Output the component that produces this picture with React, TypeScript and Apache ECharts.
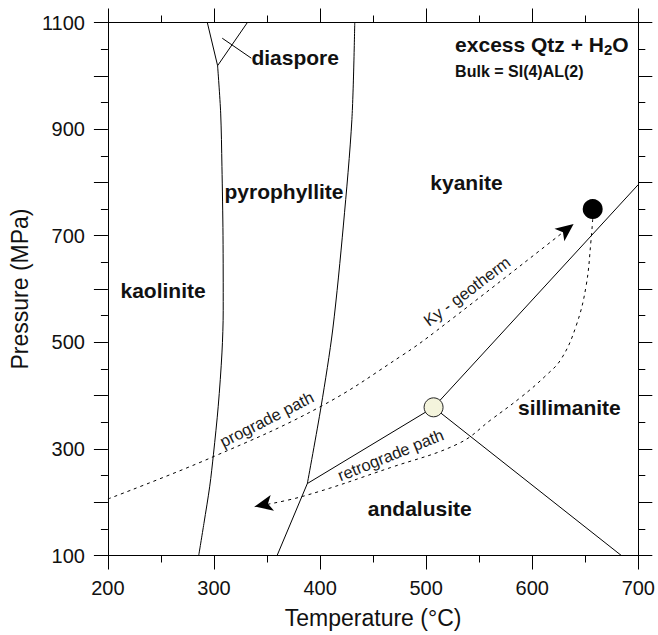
import React, { useEffect, useRef } from "react";
import * as echarts from "echarts";

// ---- data (Temperature °C, Pressure MPa) ----
const kaolPyrLine = [[285.6, 100], [290.5, 160], [296, 230], [299.5, 290], [304, 380], [307.5, 480], [308.7, 560], [308.5, 700], [307.5, 830], [306.3, 930], [303.4, 1019]];
const kaolDiaLine = [[303.4, 1019], [293.7, 1100]];
const pyrDiaLine = [[303.4, 1019], [331.5, 1100]];
const diasporeLeader = [[307.8, 1070.5], [335.2, 1033]];
const pyrKyLine = [[388, 235], [401, 380], [412, 525], [422, 720], [430, 918], [432.7, 1100]];
const pyrAndLine = [[359.5, 100], [388, 235]];
const kyAndLine = [[388, 235], [507, 378]];
const kySilLine = [[507, 378], [700, 796]];
const andSilLine = [[507, 378], [684, 100]];
const progradePath = [[200, 206], [299, 285], [401, 380], [477, 475], [510, 522], [639, 722]];
const retrogradePath = [[657, 731], [655.5, 693], [650.8, 606], [641.4, 531], [627.4, 469], [612, 436], [590, 398], [562, 356], [530.5, 310], [466.5, 265], [383.7, 211], [338.4, 191.7]];
const triplePoint = [507, 378];
const peakPoint = [657, 750];

const fieldNames = ["kaolinite", "pyrophyllite", "kyanite", "diaspore", "sillimanite", "andalusite"];
const fieldAnchors = [[252, 598], [366, 783], [538, 800], [376.5, 1034], [635, 378], [494, 189]];
const pathNames = ["prograde path", "Ky - geotherm", "retrograde path"];
const pathAnchors = [[349.6, 356], [538.3, 596], [466.5, 289]];
const headerAnchors = [[527.3, 1058], [527.3, 1007.5]];
const bulkText = "Bulk = SI(4)AL(2)";

const xTicks = { min: 200, max: 700, interval: 100 };
const yTicks = { min: 100, max: 1100, interval: 100 };

const FONT = "'Liberation Sans', Arial, Helvetica, sans-serif";
const INK = "#111";

function axisBase(t: { min: number; max: number; interval: number }) {
  return {
    type: "value" as const,
    min: t.min,
    max: t.max,
    interval: t.interval,
    axisLine: { show: true, onZero: false, lineStyle: { color: "#000", width: 1 } },
    axisTick: { show: true, inside: false, length: 14, lineStyle: { color: "#000", width: 1 } },
    minorTick: { show: true, splitNumber: 2, length: 7, lineStyle: { color: "#000", width: 1 } },
    splitLine: { show: false },
    minorSplitLine: { show: false },
  };
}

function lineSeries(data: number[][], dashed = false, smooth: number | boolean = false) {
  return {
    type: "line",
    data,
    showSymbol: false,
    symbol: "none",
    smooth,
    silent: true,
    z: 3,
    lineStyle: { color: "#000", width: 1, opacity: 1, type: dashed ? [3, 4] : "solid" },
  };
}

function buildOption(rotPro: number, rotRetro: number) {
  const pathAngles = [27, 37, 22];
  const labelData: any[] = [];
  fieldNames.forEach((n, i) => {
    labelData.push({
      value: fieldAnchors[i],
      label: { show: true, formatter: n, position: "inside", fontSize: 21, fontWeight: "bold", color: INK, opacity: 1, fontFamily: FONT },
    });
  });
  pathNames.forEach((n, i) => {
    labelData.push({
      value: pathAnchors[i],
      label: { show: true, formatter: n, position: "inside", rotate: pathAngles[i], fontSize: 16.5, color: "#1a1a1a", opacity: 1, fontFamily: FONT },
    });
  });
  labelData.push({
    value: headerAnchors[0],
    label: {
      show: true,
      position: "inside",
      align: "left",
      opacity: 1,
      formatter: "{a|excess Qtz + H}{s|2}{a|O}",
      rich: {
        a: { fontSize: 21, fontWeight: "bold", color: INK, fontFamily: FONT, lineHeight: 24 },
        s: { fontSize: 15, fontWeight: "bold", color: INK, fontFamily: FONT, lineHeight: 9, verticalAlign: "bottom" },
      },
    },
  });
  labelData.push({
    value: headerAnchors[1],
    label: { show: true, position: "inside", align: "left", opacity: 1, formatter: bulkText, fontSize: 16, fontWeight: "bold", color: INK, fontFamily: FONT },
  });

  return {
    animation: false,
    grid: { left: 105.7, right: 19, top: 22.5, bottom: 79.5, containLabel: false },
    xAxis: [
      {
        ...axisBase(xTicks),
        position: "bottom",
        name: "Temperature (°C)",
        nameLocation: "middle",
        nameGap: 51,
        nameTextStyle: { fontSize: 23, color: INK, fontFamily: FONT },
        axisLabel: { show: true, fontSize: 20, color: INK, margin: 22, fontFamily: FONT, showMinLabel: true, showMaxLabel: true, hideOverlap: false },
      },
      { ...axisBase(xTicks), position: "top", axisLabel: { show: false } },
    ],
    yAxis: [
      {
        ...axisBase(yTicks),
        position: "left",
        name: "Pressure (MPa)",
        nameLocation: "middle",
        nameGap: 71,
        nameTextStyle: { fontSize: 23, color: INK, fontFamily: FONT },
        axisLabel: {
          show: true,
          fontSize: 20,
          color: INK,
          margin: 23,
          fontFamily: FONT,
          showMinLabel: true,
          showMaxLabel: true,
          hideOverlap: false,
          formatter: (v: number) => ((Math.round(v / 100) % 2 === 1) ? String(v) : ""),
        },
      },
      { ...axisBase(yTicks), position: "right", axisLabel: { show: false } },
    ],
    series: [
      lineSeries(kaolPyrLine, false, 0.3),
      lineSeries(kaolDiaLine),
      lineSeries(pyrDiaLine),
      lineSeries(diasporeLeader),
      lineSeries(pyrKyLine, false, 0.3),
      lineSeries(pyrAndLine),
      lineSeries(kyAndLine),
      lineSeries(kySilLine),
      lineSeries(andSilLine),
      lineSeries(progradePath, true, 0.4),
      lineSeries(retrogradePath, true, 0.4),
      {
        type: "scatter",
        silent: true,
        z: 5,
        data: [
          { value: progradePath[progradePath.length - 1], symbolRotate: rotPro },
          { value: retrogradePath[retrogradePath.length - 1], symbolRotate: rotRetro },
        ],
        symbol: "arrow",
        symbolSize: [12, 18],
        itemStyle: { color: "#000", opacity: 1 },
      },
      {
        type: "scatter",
        silent: true,
        z: 6,
        data: [triplePoint],
        symbol: "circle",
        symbolSize: 19,
        itemStyle: { color: "#f4f4dc", borderColor: "#222", borderWidth: 1, opacity: 1 },
      },
      {
        type: "scatter",
        silent: true,
        z: 6,
        data: [peakPoint],
        symbol: "circle",
        symbolSize: 20,
        itemStyle: { color: "#000", opacity: 1 },
      },
      {
        type: "scatter",
        silent: true,
        z: 7,
        symbolSize: 1,
        itemStyle: { color: "rgba(0,0,0,0)", opacity: 1 },
        data: labelData,
      },
    ],
  };
}

export default function App() {
  const ref = useRef<HTMLDivElement>(null);
  useEffect(() => {
    document.body.style.margin = "0";
    if (!ref.current) return;
    const chart = echarts.init(ref.current, null, { renderer: "svg" });
    chart.setOption(buildOption(0, 0));
    const angleOf = (path: number[][]) => {
      const a = chart.convertToPixel({ xAxisIndex: 0, yAxisIndex: 0 }, path[path.length - 2]) as number[];
      const b = chart.convertToPixel({ xAxisIndex: 0, yAxisIndex: 0 }, path[path.length - 1]) as number[];
      return (Math.atan2(-(b[1] - a[1]), b[0] - a[0]) * 180) / Math.PI - 90;
    };
    chart.setOption(buildOption(angleOf(progradePath), angleOf(retrogradePath)));
    return () => chart.dispose();
  }, []);
  return <div ref={ref} style={{ width: 658, height: 635 }} />;
}
